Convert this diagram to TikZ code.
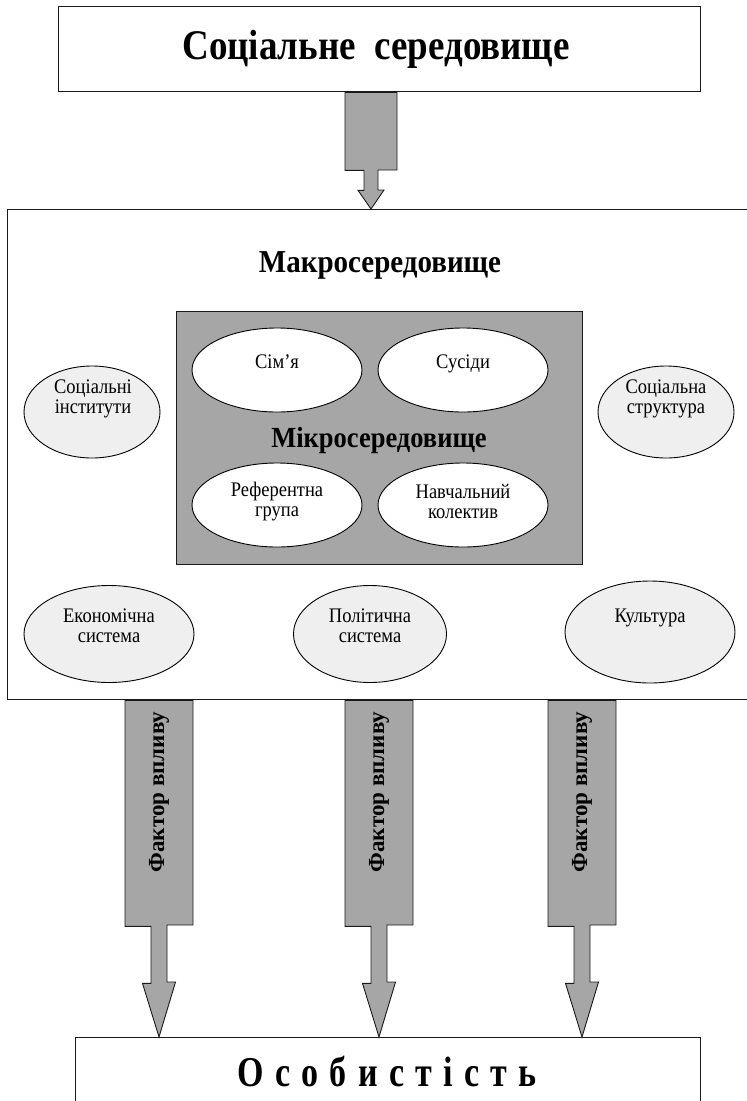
\documentclass[tikz,border=0pt]{standalone}
\usepackage{fontspec}
\setmainfont{Liberation Serif}
\usetikzlibrary{shapes.geometric,calc}
\definecolor{arrowgray}{HTML}{A6A6A6}
\definecolor{ellgray}{HTML}{EFEFEF}
\definecolor{linegray}{HTML}{1A1A1A}
\newcommand{\tall}[2]{\scalebox{1}[#1]{#2}}
\tikzset{
  boxstyle/.style={draw=linegray, line width=1.3pt, fill=white, inner sep=0pt},
  microbox/.style={draw=linegray, line width=1.1pt, fill=arrowgray, inner sep=0pt},
  blk/.style={draw=linegray, line width=0.9pt, fill=arrowgray},
  ellwhite/.style={ellipse, draw=black, line width=0.9pt, fill=white, inner sep=0pt},
  ellgrey/.style={ellipse, draw=black, line width=0.9pt, fill=ellgray, inner sep=0pt},
  elltext/.style={font=\fontsize{18.5}{20}\selectfont, align=center, inner sep=0pt},
  bigtitle/.style={font=\fontsize{37}{40}\selectfont\bfseries, inner sep=0pt},
  perstitle/.style={font=\fontsize{34}{40}\selectfont\bfseries, inner sep=0pt},
  midtitle/.style={font=\fontsize{29}{32}\selectfont\bfseries, inner sep=0pt},
  microtitle/.style={font=\fontsize{26.5}{30}\selectfont\bfseries, inner sep=0pt},
  factortext/.style={font=\fontsize{23}{26}\selectfont\bfseries, inner sep=0pt, rotate=90}
}
\begin{document}
\begin{tikzpicture}[x=1pt,y=-1pt]
\useasboundingbox (0,0) rectangle (747,1101);
% boxes
\node[boxstyle, anchor=north west, minimum width=642pt, minimum height=85pt] (top) at (58,6) {};
\node[bigtitle] (toptext) at (376,49) {\tall{1.14}{Соціальне\ \ середовище}};
\node[boxstyle, anchor=north west, minimum width=745pt, minimum height=490pt] (macro) at (7,209) {};
\node[boxstyle, anchor=north west, minimum width=625pt, minimum height=120pt] (pers) at (75,1037) {};
\node[perstitle] (perstext) at (387,1071) {\tall{1.25}{О\,\,с\,\,о\,\,б\,\,и\,\,с\,\,т\,\,і\,\,с\,\,т\,\,ь}};
% top arrow
\coordinate (x0) at (371,0);
\draw[blk] ($(x0 |- top.south)+(-26,0)$) -- ++(0,78) -- ++(19,0) -- ++(0,20) -- ++(-6,0)
  -- (x0 |- macro.north) -- ++(13,-19) -- ++(-6,0) -- ++(0,-20) -- ++(19,0)
  -- ($(x0 |- top.south)+(26,0)$) -- cycle;
% macro title
\node[midtitle] (macrotext) at (380,265) {\tall{1.1}{Макросередовище}};
% micro box
\node[microbox, anchor=north west, minimum width=406pt, minimum height=253pt] (micro) at (176,311) {};
\node[ellwhite, minimum width=170pt, minimum height=84pt] (sim) at (277,370) {};
\node[ellwhite, minimum width=170pt, minimum height=84pt] (sus) at (463,370) {};
\node[ellwhite, minimum width=170pt, minimum height=84pt] (ref) at (277,505) {};
\node[ellwhite, minimum width=170pt, minimum height=84pt] (nav) at (463,505) {};
\node[elltext, anchor=base] (simt) at (277,368) {\tall{1.12}{Сім’я}};
\node[elltext, anchor=base] (sust) at (463,368) {\tall{1.12}{Сусіди}};
\node[elltext] (reft) at (277,502) {\tall{1.12}{Референтна}\\\tall{1.12}{група}};
\node[elltext] (navt) at (463,502) {\tall{1.12}{Навчальний}\\\tall{1.12}{колектив}};
\node[microtitle] (microtext) at (379,440) {\tall{1.1}{Мікросередовище}};
% outer ellipses
\node[ellgrey, minimum width=136pt, minimum height=92pt] (inst) at (92,412) {};
\node[ellgrey, minimum width=136pt, minimum height=92pt] (struct) at (666,412) {};
\node[ellgrey, minimum width=170pt, minimum height=97pt] (econ) at (109,634) {};
\node[ellgrey, minimum width=153pt, minimum height=97pt] (pol) at (370,634) {};
\node[ellgrey, minimum width=170pt, minimum height=102pt] (cult) at (650,632) {};
\node[elltext] (instt) at (93,399) {\tall{1.12}{Соціальні}\\\tall{1.12}{інститути}};
\node[elltext] (structt) at (666,399) {\tall{1.12}{Соціальна}\\\tall{1.12}{структура}};
\node[elltext] (econt) at (109,626) {\tall{1.12}{Економічна}\\\tall{1.12}{система}};
\node[elltext] (polt) at (370,626) {\tall{1.12}{Політична}\\\tall{1.12}{система}};
\node[elltext, anchor=base] (cultt) at (650,622) {\tall{1.12}{Культура}};
% bottom arrows
\foreach \c/\n in {159/a, 379/b, 582/c}{
  \coordinate (x\n) at (\c,0);
  \draw[blk] ($(x\n |- macro.south)+(-34,0)$) -- ++(0,226) -- ++(26,0) -- ++(0,57) -- ++(-8.5,0)
    -- (x\n |- pers.north) -- ++(16.5,-55) -- ++(-8.5,0) -- ++(0,-57) -- ++(26,0)
    -- ($(x\n |- macro.south)+(34,0)$) -- cycle;
  \node[factortext] (f\n) at (\c,792) {Фактор впливу};
}
\end{tikzpicture}
\end{document}
